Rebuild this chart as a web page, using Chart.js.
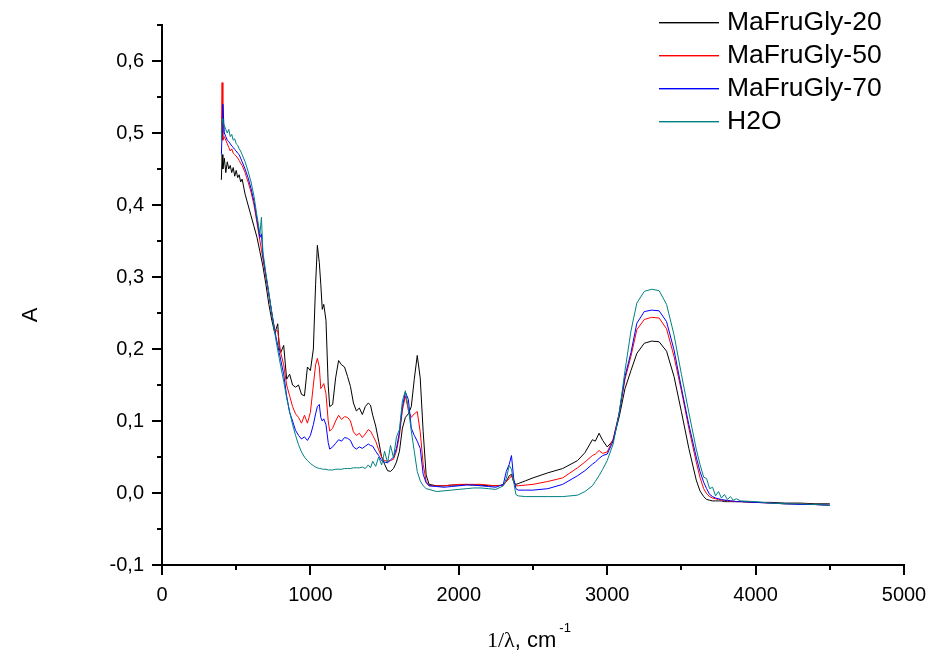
<!DOCTYPE html>
<html><head><meta charset="utf-8">
<script src="https://cdn.jsdelivr.net/npm/chart.js@4"></script>
<style>html,body{margin:0;padding:0;background:#fff}</style>
</head><body>
<canvas id="c" width="933" height="654"></canvas>
<script>
const seriesNames = ['MaFruGly-20', 'MaFruGly-50', 'MaFruGly-70', 'H2O'];
const seriesColors = ['#000000', '#ff0000', '#0000ff', '#008080'];

const wavenumber = [400,405,410,420,430,440,450,460,470,480,490,500,510,520,530,540,560,580,600,620,640,660,670,680,700,720,740,760,780,790,800,820,840,860,880,900,920,940,960,980,1000,1020,1035,1047,1060,1070,1080,1090,1105,1120,1130,1150,1170,1190,1210,1230,1250,1270,1290,1310,1330,1350,1370,1390,1405,1420,1440,1460,1480,1500,1520,1540,1560,1580,1600,1620,1640,1660,1680,1700,1720,1740,1760,1780,1800,1850,1900,1950,2000,2050,2100,2150,2200,2250,2300,2320,2340,2355,2370,2385,2400,2450,2500,2600,2700,2800,2850,2900,2920,2945,2970,3000,3040,3080,3120,3160,3200,3250,3300,3350,3400,3450,3500,3550,3600,3625,3650,3670,3690,3710,3730,3750,3770,3790,3810,3830,3850,3870,3900,4000,4100,4200,4300,4400,4500];

const mafrugly20 = [0.435,0.47,0.45,0.465,0.445,0.46,0.45,0.455,0.445,0.452,0.44,0.448,0.438,0.442,0.432,0.436,0.415,0.40,0.385,0.37,0.355,0.335,0.325,0.315,0.29,0.262,0.24,0.222,0.235,0.20,0.195,0.205,0.158,0.165,0.15,0.147,0.15,0.137,0.135,0.175,0.17,0.2,0.29,0.344,0.32,0.29,0.255,0.262,0.24,0.15,0.12,0.123,0.16,0.184,0.178,0.175,0.162,0.148,0.125,0.114,0.118,0.109,0.12,0.125,0.122,0.108,0.093,0.072,0.05,0.04,0.031,0.03,0.034,0.043,0.058,0.09,0.105,0.11,0.12,0.158,0.191,0.16,0.085,0.025,0.012,0.01,0.01,0.011,0.011,0.012,0.011,0.011,0.01,0.01,0.011,0.016,0.024,0.026,0.015,0.012,0.013,0.017,0.021,0.028,0.034,0.045,0.056,0.074,0.072,0.083,0.073,0.064,0.073,0.105,0.145,0.17,0.194,0.208,0.211,0.21,0.197,0.162,0.113,0.062,0.018,0.003,-0.005,-0.009,-0.01,-0.011,-0.011,-0.011,-0.011,-0.012,-0.012,-0.012,-0.012,-0.012,-0.012,-0.013,-0.013,-0.014,-0.014,-0.015,-0.015];

const mafrugly50 = [0.50,0.57,0.49,0.495,0.49,0.485,0.48,0.475,0.478,0.472,0.47,0.468,0.465,0.462,0.458,0.455,0.445,0.432,0.418,0.40,0.375,0.35,0.338,0.325,0.30,0.275,0.25,0.226,0.225,0.21,0.195,0.178,0.150,0.135,0.12,0.11,0.105,0.097,0.108,0.097,0.112,0.15,0.178,0.187,0.175,0.145,0.148,0.152,0.138,0.10,0.086,0.09,0.10,0.108,0.102,0.106,0.105,0.10,0.085,0.08,0.083,0.077,0.082,0.088,0.086,0.08,0.072,0.06,0.05,0.045,0.044,0.045,0.047,0.058,0.08,0.115,0.135,0.115,0.105,0.11,0.113,0.085,0.04,0.016,0.01,0.01,0.01,0.011,0.012,0.012,0.012,0.012,0.011,0.01,0.011,0.016,0.02,0.024,0.016,0.01,0.01,0.011,0.012,0.016,0.021,0.035,0.043,0.052,0.054,0.059,0.055,0.057,0.075,0.11,0.158,0.19,0.227,0.241,0.244,0.243,0.228,0.19,0.142,0.09,0.043,0.022,0.006,-0.001,-0.005,-0.007,-0.008,-0.009,-0.01,-0.01,-0.011,-0.011,-0.012,-0.012,-0.012,-0.013,-0.014,-0.015,-0.015,-0.016,-0.017];

const mafrugly70 = [0.47,0.50,0.54,0.50,0.495,0.49,0.488,0.485,0.482,0.48,0.477,0.475,0.472,0.47,0.465,0.46,0.45,0.438,0.423,0.405,0.38,0.355,0.36,0.33,0.303,0.277,0.25,0.225,0.205,0.195,0.185,0.165,0.135,0.112,0.10,0.087,0.08,0.075,0.078,0.073,0.08,0.095,0.11,0.12,0.123,0.105,0.10,0.103,0.095,0.07,0.061,0.064,0.069,0.074,0.072,0.077,0.076,0.073,0.064,0.061,0.064,0.062,0.065,0.068,0.066,0.065,0.058,0.052,0.045,0.043,0.042,0.046,0.05,0.062,0.085,0.12,0.14,0.13,0.09,0.08,0.072,0.062,0.026,0.014,0.01,0.009,0.008,0.009,0.01,0.011,0.011,0.01,0.009,0.008,0.012,0.03,0.04,0.052,0.02,0.006,0.004,0.004,0.004,0.006,0.012,0.024,0.031,0.04,0.043,0.048,0.052,0.054,0.072,0.11,0.162,0.195,0.236,0.252,0.254,0.253,0.238,0.199,0.146,0.095,0.05,0.03,0.015,0.006,-0.002,-0.005,-0.007,-0.008,-0.009,-0.01,-0.01,-0.011,-0.011,-0.012,-0.012,-0.013,-0.014,-0.015,-0.016,-0.016,-0.017];

const h2o = [0.49,0.52,0.515,0.51,0.505,0.50,0.505,0.495,0.498,0.49,0.492,0.485,0.483,0.478,0.475,0.47,0.46,0.447,0.432,0.412,0.385,0.36,0.383,0.335,0.305,0.278,0.25,0.222,0.198,0.187,0.176,0.155,0.132,0.113,0.095,0.08,0.067,0.057,0.05,0.045,0.041,0.038,0.036,0.035,0.034,0.034,0.033,0.033,0.033,0.032,0.032,0.032,0.033,0.033,0.033,0.034,0.034,0.034,0.035,0.035,0.035,0.036,0.034,0.039,0.035,0.044,0.037,0.05,0.039,0.058,0.042,0.066,0.049,0.078,0.088,0.128,0.142,0.118,0.086,0.058,0.03,0.017,0.01,0.006,0.005,0.002,0.003,0.004,0.005,0.006,0.007,0.007,0.006,0.005,0.01,0.02,0.038,0.033,0.015,-0.002,-0.004,-0.005,-0.005,-0.005,-0.005,-0.003,0.002,0.01,0.016,0.024,0.033,0.045,0.068,0.11,0.17,0.225,0.264,0.28,0.283,0.281,0.262,0.22,0.165,0.112,0.061,0.04,0.022,0.02,0.006,0.008,-0.004,0.002,-0.007,-0.002,-0.009,-0.005,-0.01,-0.008,-0.011,-0.012,-0.014,-0.015,-0.015,-0.016,-0.017];

const seriesValues = [mafrugly20, mafrugly50, mafrugly70, h2o];
const drawOrder = [4, 3, 2, 1];

const FONT = "'Liberation Sans', Arial, sans-serif";

const axisDecor = {
  id: 'axisDecor',
  afterDraw(chart) {
    const ctx = chart.ctx;
    const area = chart.chartArea;
    const xs = chart.scales.x, ys = chart.scales.y;
    ctx.save();
    ctx.strokeStyle = '#000';
    ctx.lineWidth = 2;
    ys.ticks.forEach(t => {
      const p = Math.round(ys.getPixelForValue(t.value));
      const len = t.label ? 10 : 5;
      ctx.beginPath(); ctx.moveTo(area.left - len, p); ctx.lineTo(area.left, p); ctx.stroke();
    });
    xs.ticks.forEach(t => {
      const p = Math.round(xs.getPixelForValue(t.value));
      const len = t.label ? 10 : 5;
      ctx.beginPath(); ctx.moveTo(p, area.bottom); ctx.lineTo(p, area.bottom + len); ctx.stroke();
    });
    // legend
    ctx.textBaseline = 'middle';
    ctx.textAlign = 'left';
    seriesNames.forEach((name, i) => {
      const y = Math.round(22 + i * 33);
      ctx.fillStyle = seriesColors[i];
      ctx.fillRect(659, y, 60, 1.4);
      ctx.save();
      ctx.fillStyle = '#000';
      ctx.translate(727, y + 1.5);
      ctx.scale(1.06, 1);
      ctx.font = '25px ' + FONT;
      ctx.fillText(name, 0, 0);
      ctx.restore();
    });
    ctx.fillStyle = '#000';
    // y title
    ctx.save();
    ctx.translate(31, 315);
    ctx.rotate(-Math.PI / 2);
    ctx.textAlign = 'center';
    ctx.textBaseline = 'middle';
    ctx.font = '22px ' + FONT;
    ctx.fillText('A', 0, 0);
    ctx.restore();
    // x title
    ctx.textBaseline = 'alphabetic';
    ctx.textAlign = 'left';
    let x = 487;
    ctx.font = "22px 'Liberation Serif', 'Times New Roman', serif";
    ctx.fillText('1/λ', x, 647);
    x += ctx.measureText('1/λ').width;
    ctx.font = '22px ' + FONT;
    ctx.fillText(', cm', x, 647);
    x += ctx.measureText(', cm').width + 3;
    ctx.font = '13px ' + FONT;
    ctx.fillText('-1', x, 632);
    ctx.restore();
  }
};

new Chart(document.getElementById('c'), {
  type: 'line',
  data: {
    datasets: seriesNames.map((name, i) => ({
      label: name,
      data: wavenumber.map((w, k) => ({ x: w, y: seriesValues[i][k] })),
      borderColor: seriesColors[i],
      backgroundColor: seriesColors[i],
      borderWidth: 1,
      pointRadius: 0,
      tension: 0,
      fill: false,
      order: drawOrder[i]
    }))
  },
  options: {
    responsive: false,
    devicePixelRatio: 1,
    animation: false,
    layout: { padding: { left: 0, top: 25, right: 29, bottom: 0 } },
    plugins: { legend: { display: false }, tooltip: { enabled: false } },
    scales: {
      x: {
        type: 'linear', min: 0, max: 5000,
        border: { display: true, color: '#000', width: 2 },
        grid: { display: true, drawOnChartArea: false, drawTicks: true, tickLength: 10, tickColor: 'rgba(0,0,0,0)' },
        ticks: {
          stepSize: 500, autoSkip: false, maxRotation: 0, padding: 8, color: '#000',
          font: { family: FONT, size: 20 },
          callback: v => (v % 1000 === 0 ? String(v) : '')
        },
        afterFit: s => { s.height = 89; s.paddingLeft = 0; s.paddingRight = 0; }
      },
      y: {
        type: 'linear', min: -0.1, max: 0.65,
        border: { display: true, color: '#000', width: 2 },
        grid: { display: true, drawOnChartArea: false, drawTicks: true, tickLength: 10, tickColor: 'rgba(0,0,0,0)' },
        ticks: {
          stepSize: 0.05, autoSkip: false, padding: 8, color: '#000',
          font: { family: FONT, size: 20 },
          callback: v => {
            const k = Math.round(v * 100);
            return k % 10 === 0 ? (k / 100).toFixed(1).replace('.', ',') : '';
          }
        },
        afterFit: s => { s.width = 162; s.paddingTop = 0; s.paddingBottom = 0; }
      }
    }
  },
  plugins: [axisDecor]
});
</script>
</body></html>
